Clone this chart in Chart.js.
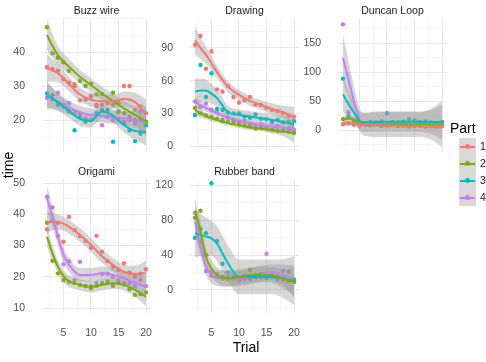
<!DOCTYPE html>
<html>
<head>
<meta charset="utf-8">
<script src="https://cdn.jsdelivr.net/npm/chart.js@4.4.1/dist/chart.umd.min.js"></script>
<style>
  html, body { margin: 0; background: #fff; }
  #wrap { position: relative; width: 486px; height: 362px; overflow: hidden; font-family: "Liberation Sans", Arial, sans-serif; }
  #wrap canvas { position: absolute; }
  .strip { position: absolute; width: 109px; height: 14px; line-height: 14px; text-align: center; font-size: 10.5px; color: #1a1a1a; white-space: nowrap; }
  .axis-title { position: absolute; width: 100px; height: 16px; line-height: 16px; text-align: center; font-size: 14px; color: #000; }
  .key { position: absolute; left: 459px; width: 17px; height: 17px; background: #d9d9d9; }
  .key .ln { position: absolute; left: 1px; width: 15px; top: 7.5px; height: 2px; }
  .key .dot { position: absolute; left: 6px; top: 6px; width: 5px; height: 5px; border-radius: 50%; }
  .key-label { position: absolute; left: 480px; height: 17px; line-height: 17px; font-size: 10.5px; color: #1a1a1a; }
</style>
</head>
<body>
<div id="wrap"></div>
<script>
  // trials and fitted-curve positions
  var trials = [2, 3, 4, 5, 6, 7, 8, 9, 10, 11, 12, 13, 14, 15, 16, 17, 18, 19, 20];
  var fitTrials = [2, 3, 4, 5, 6, 8, 10, 12, 14, 16, 18, 20];
  var parts = ["1", "2", "3", "4"];
  var partColors = ["#F8766D", "#7CAE00", "#00BFC4", "#C77CFF"];
  var xTicks = [5, 10, 15, 20];

  // Buzz wire
  var buzzTicks = [20, 30, 40];
  var buzzPoints = [
    [35.5, 35, 34.5, 32, 31, 30.5, 25.8, 26, 27, 24.5, 24.5, 25, 24.5, 25, 30, 30, 23, 24, 22],
    [47.3, 39.6, 38.3, 37, 34.5, 30, 31.5, 30, 30.7, 27.5, 27.7, 25, 28, 22.3, 22, 21, 20, 20, 19.5],
    [27.8, 27.3, 24.5, 24.4, 22.5, 17, 21, 19.5, 20, 22, 23, 23, 13.6, 22.5, 19, 17, 13.8, 16, 18.5],
    [26.5, 26, 28, 24, 25, 22, 22, 20.5, 27, 24, 18.5, 21, 20, 20, 19.5, 20, 19, 22.5, 19]
  ];
  var buzzFit = [
    [35.3, 34.6, 33.8, 32.3, 30.6, 27.5, 26, 25.5, 25.5, 26.2, 25.3, 21.8],
    [45, 41.8, 39, 37.2, 35.7, 32.7, 30.3, 27.8, 25.6, 23.4, 21.5, 19.7],
    [27.2, 26.3, 25.2, 24, 22.7, 20.3, 19.8, 22.5, 21.3, 18.5, 16.8, 16.5],
    [27.4, 26.4, 25.4, 24.5, 23.6, 22.3, 21.5, 21.2, 20.8, 20.5, 20, 19.5]
  ];
  var buzzSe = [
    [4.2, 3.3, 2.7, 2.3, 2.1, 2, 2, 2, 2, 2.2, 2.8, 4.3],
    [4.5, 3.5, 2.8, 2.4, 2.2, 2, 2, 2, 2, 2.2, 2.8, 4.5],
    [4, 3.2, 2.6, 2.3, 2.1, 2, 2, 2, 2, 2.2, 2.7, 4],
    [3.8, 3, 2.5, 2.2, 2, 1.9, 1.9, 1.9, 1.9, 2.1, 2.6, 3.8]
  ];

  // Drawing
  var drawTicks = [0, 30, 60, 90];
  var drawPoints = [
    [93, 101, 71, 87, 52, 50, 55, 45, 40, 42, 45, 38, 37.7, 35, 33, 32, 30, 28, 27],
    [35, 30, 28, 27, 25, 24, 22, 22, 20, 19, 19, 16, 17, 16, 15, 14, 14, 13, 12],
    [28.5, 74.4, 45, 66.8, 34, 33, 30.7, 30, 30, 27, 26, 29, 25, 24.6, 22, 24, 21.8, 22.4, 23],
    [41, 36, 39, 33, 31, 23, 26, 24, 22, 23, 20, 19, 20, 17, 15, 18, 14, 16, 15]
  ];
  var drawFit = [
    [97, 90, 83.6, 76, 68, 54.5, 47, 41.4, 37.7, 34, 31, 27],
    [33, 30, 27.5, 25.5, 24, 21, 19, 17, 16, 14.5, 13, 12],
    [50, 51, 51, 48, 44, 31, 28.5, 27, 25.5, 24, 22, 20],
    [40, 37.5, 35, 32.5, 30, 26, 23, 21, 19, 18, 17, 16]
  ];
  var drawSe = [
    [13, 10, 8, 6.5, 5.5, 5, 4.5, 4.5, 4.5, 5, 6, 9],
    [5, 4, 3, 3, 2.5, 2.5, 2.5, 2.5, 2.5, 3, 4, 9],
    [12, 11, 10, 9, 8, 6, 5, 5, 5, 5, 6, 8],
    [5, 4, 3.5, 3, 3, 2.5, 2.5, 2.5, 2.5, 3, 3.5, 5]
  ];

  // Duncan Loop
  var duncanTicks = [0, 50, 100, 150];
  var duncanPoints = [
    [10, 12, 9, 8, 9, 8, 10, 7, 8, 9, 7, 8, 6, 7, 8, 6, 7, 6, 7],
    [19, 22, 16, 10, 12, 9, 11, 10, 9, 10, 8, 11, 9, 10, 8, 9, 10, 8, 9],
    [89, 24, 15, 13, 12, 14, 13, 15, 29, 14, 13, 15, 19, 17, 14, 15, 13, 12, 14],
    [183, 31, 12, 10, 11, 9, 10, 12, 9, 10, 11, 9, 10, 8, 10, 12, 9, 10, 9]
  ];
  var duncanFit = [
    [12, 11.5, 11, 10, 9.5, 8.5, 8, 7.5, 7.5, 7, 7, 7],
    [18, 20, 18, 13, 10, 9.5, 9.5, 9.5, 9, 9, 9, 9],
    [62, 45, 30, 16, 13, 14, 14.5, 14.5, 14.5, 14, 14, 14],
    [125, 88, 50, 18, 10, 10, 10, 10, 10, 10, 10, 10]
  ];
  var duncanSe = [
    [5, 4, 3.5, 3, 3, 3, 3, 3, 3, 3, 3.5, 5],
    [6, 5, 4, 3.5, 3, 3, 3, 3, 3, 3, 4, 6],
    [30, 24, 19, 16, 16, 17, 17, 17, 17, 17, 21, 30],
    [40, 32, 25, 20, 20, 22, 22, 22, 22, 22, 27, 40]
  ];

  // Origami (no part 3)
  var origamiTicks = [10, 20, 30, 40, 50];
  var origamiPoints = [
    [35.2, 42.2, 37.3, 31.2, 39.2, 35, 33, 31.5, 29.3, 33.1, 28, 25, 23.2, 22.2, 24.3, 21.3, 20, 21, 22.4],
    [37.3, 25.1, 21.1, 19, 18.4, 18, 17.4, 17, 16.3, 17.1, 18, 18.5, 17.1, 18, 17.5, 16, 14.2, 14.5, 15],
    null,
    [45.6, 38, 33.1, 24, 25, 19, 24.8, 17, 17, 18, 21, 21, 20, 19, 18, 18, 17, 19, 17]
  ];
  var origamiFit = [
    [37.3, 37.6, 37.5, 37, 36, 33.4, 30.2, 26.6, 23.8, 21.6, 20.9, 21.1],
    [32.8, 27.5, 23.2, 20.2, 18.6, 17.4, 16.8, 17.4, 17.9, 17.4, 15.8, 13.6],
    null,
    [45.1, 39.2, 32.8, 27, 23.8, 20.6, 20.6, 21.1, 20.6, 19.5, 18.2, 16.8]
  ];
  var origamiSe = [
    [3.5, 2.8, 2.4, 2.2, 2.2, 2.2, 2.2, 2.2, 2.2, 2.2, 2.6, 4],
    [3, 2.5, 2, 2, 1.8, 1.8, 1.8, 1.8, 1.8, 1.8, 2.2, 3],
    null,
    [4, 3.2, 2.8, 2.5, 2.3, 2.2, 2.2, 2.2, 2.2, 2.2, 2.6, 3.5]
  ];

  // Rubber band (no part 1)
  var rubberTicks = [0, 40, 80, 120];
  var rubberPoints = [
    null,
    [82.6, 90.6, 40, 16.5, 18, 15, 14, 13, 12, 15, 22.9, 17, 15, 16, 18, 14, 12, 10, 9],
    [59.8, 70, 65, 122, 56, 30, 20, 15, 14, 16, 13, 15, 18, 14, 15, 12, 14, 21, 12],
    [88, 55, 21.7, 21, 15, 13, 12, 14, 11, 13, 14, 15, 18, 41.5, 17, 16, 22, 13, 10]
  ];
  var rubberFit = [
    null,
    [91, 66.7, 38, 24.8, 17, 13.3, 15, 17, 17.5, 17, 13, 9.5],
    [65, 63, 61, 59, 53, 30.5, 15, 15, 15, 15, 13, 10.5],
    [78, 49.5, 26.7, 17, 13.3, 12.6, 13.3, 15.2, 19, 20.2, 17, 10.3]
  ];
  var rubberSe = [
    null,
    [14, 12, 10, 9, 9, 9, 9, 9, 9, 9, 11, 16],
    [28, 24, 22, 20, 20, 20, 20, 20, 20, 20, 22, 28],
    [15, 12, 10, 9, 9, 9, 9, 9, 9, 9, 12, 18]
  ];

  var panels = [
    { title: "Buzz wire", col: 0, row: 0, yMin: 10.6, yMax: 50, yTicks: buzzTicks, points: buzzPoints, fit: buzzFit, se: buzzSe },
    { title: "Drawing", col: 1, row: 0, yMin: -5.5, yMax: 117.5, yTicks: drawTicks, points: drawPoints, fit: drawFit, se: drawSe },
    { title: "Duncan Loop", col: 2, row: 0, yMin: -38, yMax: 194, yTicks: duncanTicks, points: duncanPoints, fit: duncanFit, se: duncanSe },
    { title: "Origami", col: 0, row: 1, yMin: 8.4, yMax: 51.3, yTicks: origamiTicks, points: origamiPoints, fit: origamiFit, se: origamiSe },
    { title: "Rubber band", col: 1, row: 1, yMin: -26.3, yMax: 126.9, yTicks: rubberTicks, points: rubberPoints, fit: rubberFit, se: rubberSe }
  ];

  Chart.defaults.font.family = '"Liberation Sans", Arial, sans-serif';

  var wrap = document.getElementById("wrap");
  var colLeft = [42, 190, 338];
  var rowTop = [18, 179];
  var panelW = 109, panelH = 134, yAxisW = 45, padTop = 10, padRight = 10;

  function el(cls, text, css) {
    var d = document.createElement("div");
    d.className = cls;
    d.textContent = text;
    for (var k in css) d.style[k] = css[k];
    wrap.appendChild(d);
    return d;
  }

  // major ticks plus half-step minor lines (ggplot style)
  function withMinor(major, min, max) {
    var step = major[1] - major[0];
    var all = [];
    var v = major[0] - step / 2;
    while (v - step / 2 >= min) v -= step / 2;
    for (; v <= max; v += step / 2) {
      if (v >= min) all.push(v);
    }
    return all;
  }

  function gridColor(major) {
    return function (ctx) {
      return ctx.tick && major.indexOf(ctx.tick.value) >= 0 ? "#e6e6e6" : "#f2f2f2";
    };
  }
  function gridWidth(major) {
    return function (ctx) {
      return ctx.tick && major.indexOf(ctx.tick.value) >= 0 ? 1 : 0.6;
    };
  }

  panels.forEach(function (p) {
    var left = colLeft[p.col], top = rowTop[p.row];
    var hasX = p.row === 1;
    var xH = hasX ? 30 : 10;

    var canvas = document.createElement("canvas");
    var w = panelW + yAxisW + padRight, h = panelH + padTop + xH;
    canvas.width = w;
    canvas.height = h;
    canvas.style.width = w + "px";
    canvas.style.height = h + "px";
    canvas.style.left = (left - yAxisW) + "px";
    canvas.style.top = (top - padTop) + "px";
    wrap.appendChild(canvas);

    el("strip", p.title, { left: left + "px", top: (top - 15) + "px" });

    var datasets = [];
    parts.forEach(function (part, g) {
      if (!p.points[g]) return;
      var c = partColors[g];
      var lo = fitTrials.map(function (t, i) { return { x: t, y: p.fit[g][i] - p.se[g][i] }; });
      var hi = fitTrials.map(function (t, i) { return { x: t, y: p.fit[g][i] + p.se[g][i] }; });
      var fit = fitTrials.map(function (t, i) { return { x: t, y: p.fit[g][i] }; });
      var pts = trials.map(function (t, i) { return { x: t, y: p.points[g][i] }; });

      datasets.push({ type: "line", label: part + " lo", data: lo, borderWidth: 0, pointRadius: 0,
        fill: false, cubicInterpolationMode: "monotone", order: 2 });
      datasets.push({ type: "line", label: part + " hi", data: hi, borderWidth: 0, pointRadius: 0,
        fill: "-1", backgroundColor: "rgba(153,153,153,0.4)", cubicInterpolationMode: "monotone", order: 2 });
      datasets.push({ type: "line", label: part, data: fit, borderColor: c, borderWidth: 2, pointRadius: 0,
        fill: false, cubicInterpolationMode: "monotone", order: 1 });
      datasets.push({ type: "scatter", label: part + " pts", data: pts, pointRadius: 2.2, backgroundColor: c,
        borderWidth: 0, order: 3 });
    });

    var yAll = withMinor(p.yTicks, p.yMin, p.yMax);
    var xAll = withMinor(xTicks, 1.1, 20.9);

    new Chart(canvas, {
      type: "scatter",
      data: { datasets: datasets },
      options: {
        responsive: false,
        animation: false,
        devicePixelRatio: 1,
        layout: { padding: { top: padTop, right: padRight, left: 0, bottom: 0 } },
        plugins: { legend: { display: false }, tooltip: { enabled: false } },
        scales: {
          x: {
            type: "linear",
            min: 1.1,
            max: 20.9,
            afterBuildTicks: function (scale) {
              scale.ticks = xAll.map(function (v) { return { value: v }; });
            },
            afterFit: function (scale) { scale.height = xH; },
            ticks: {
              display: hasX,
              padding: 0,
              maxRotation: 0,
              autoSkip: false,
              color: "#4d4d4d",
              font: { size: 10.5 },
              callback: function (v) { return xTicks.indexOf(v) >= 0 ? String(v) : ""; }
            },
            // invisible tick marks push the labels away from the panel
            grid: { drawTicks: true, tickLength: 14, tickColor: "rgba(0,0,0,0)",
              color: gridColor(xTicks), lineWidth: gridWidth(xTicks) },
            border: { display: false }
          },
          y: {
            type: "linear",
            min: p.yMin,
            max: p.yMax,
            afterBuildTicks: function (scale) {
              scale.ticks = yAll.map(function (v) { return { value: v }; });
            },
            afterFit: function (scale) { scale.width = yAxisW; },
            ticks: {
              padding: 0,
              autoSkip: false,
              color: "#4d4d4d",
              font: { size: 10.5 },
              callback: function (v) { return p.yTicks.indexOf(v) >= 0 ? String(v) : ""; }
            },
            grid: { drawTicks: true, tickLength: 17, tickColor: "rgba(0,0,0,0)",
              color: gridColor(p.yTicks), lineWidth: gridWidth(p.yTicks) },
            border: { display: false }
          }
        }
      }
    });
  });

  // axis titles
  el("axis-title", "Trial", { left: "196px", top: "339px" });
  el("axis-title", "time", { left: "-42px", top: "157px", transform: "rotate(-90deg)" });

  // legend
  el("axis-title", "Part", { left: "450px", top: "120px", width: "40px", textAlign: "left" });
  var keyTops = [138, 155, 172, 189];
  parts.forEach(function (part, g) {
    var k = el("key", "", { top: keyTops[g] + "px" });
    var ln = document.createElement("div");
    ln.className = "ln";
    ln.style.background = partColors[g];
    k.appendChild(ln);
    var dot = document.createElement("div");
    dot.className = "dot";
    dot.style.background = partColors[g];
    k.appendChild(dot);
    el("key-label", part, { top: keyTops[g] + "px" });
  });
</script>
</body>
</html>
